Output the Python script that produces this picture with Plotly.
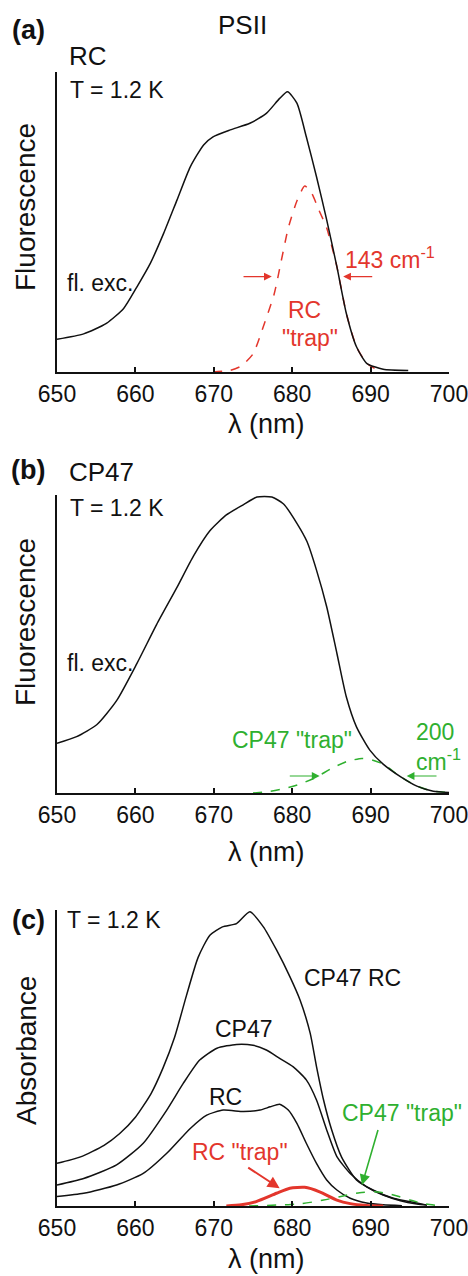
import plotly.graph_objects as go

# ---------------- data ----------------
# Panel (a): RC fluorescence excitation + RC "trap"
wl_a_fl = [650, 653.4, 656.3, 658.5, 660.2, 661.9, 663.6, 665.3, 667.0, 668.7, 669.9, 672.1, 674.6,
           676.7, 678.4, 679.4, 680.6, 681.8, 683.1, 684.4, 685.7, 686.9, 688.2, 689.5, 691.6, 694.8]
a_fl = [10.9, 12.7, 16.2, 21.2, 28.4, 36.2, 46.2, 57.3, 68.4, 75.7, 78.4, 80.7, 82.9,
        86.2, 91.2, 93.4, 89.6, 78.4, 65.1, 50.7, 35.1, 19.6, 8.4, 2.9, 0.9, 0.5]
wl_a_trap = [669.9, 672, 673.5, 675, 676.3, 677.7, 678.6, 679.5, 680.6, 681.6, 682.5, 683.4,
             684.4, 685.7, 686.9, 688.2, 689.5, 690.5]
a_trap = [0, 0.5, 2, 6, 15, 26, 37, 48, 57, 62, 59.5, 54, 48, 35.1, 19.6, 8.4, 2.9, 1.2]

# Panel (b): CP47 fluorescence excitation + CP47 "trap"
wl_b_fl = [650, 652.5, 655.1, 657.6, 660.2, 662.7, 665.3, 667.4, 669.5, 671.6, 673.8, 675.5, 677.4,
           678.9, 680.6, 681.9, 683.1, 684.4, 685.7, 686.9, 688.2, 689.9, 691.6, 693.8, 695.9, 698.0, 700]
b_fl = [16.7, 18.9, 23.0, 31.0, 43.5, 56.5, 69.0, 79.5, 88.0, 93.3, 96.8, 99.3, 99.3,
        97.0, 90.5, 84.3, 74.8, 62.5, 46.9, 32.3, 22.2, 14.4, 9.7, 5.5, 2.3, 0.6, 0.2]
wl_b_trap = [675, 677, 679, 681, 683, 685, 687, 688.9, 690, 691.6, 693.8, 695.9, 698, 700]
b_trap = [0, 0.5, 1.5, 3, 5.2, 8.2, 10.6, 11.6, 11.2, 9.7, 5.5, 2.3, 0.6, 0.2]

# Panel (c): absorbance
wl_c_cp47rc = [650, 653, 656, 658, 660, 662, 663.5, 665, 666.5, 668, 669.5, 671.1, 672.9, 674.6,
               676.3, 678, 679.7, 681, 682.3, 683.1, 684, 685, 686.3, 688.2, 690.3, 692.9, 695.9, 697.2]
c_cp47rc = [14.4, 16.6, 20.5, 24.5, 30, 38, 46.5, 57, 71, 84, 91.5, 94.3, 95.4, 99.4,
            94.4, 86.5, 77.5, 69.6, 58.3, 47.1, 35.8, 26, 16.5, 8.8, 5.4, 2.6, 1.0, 0.3]
wl_c_cp47 = [650, 653.4, 657.6, 661, 664, 666.1, 668.2, 670.4, 672.9, 675, 676.7, 678.4, 680.1,
             681.8, 683.1, 684.4, 685.7, 687.4, 689.5, 691.6, 693.8, 695.9, 697.2]
c_cp47 = [7.1, 9.3, 13.9, 21.2, 32.4, 41.4, 49.3, 53.3, 54.6, 54.3, 52.7, 49.9, 47.1,
          42.6, 35.8, 25.7, 16.7, 11.0, 6.5, 3.7, 1.8, 0.7, 0.3]
wl_c_rc = [650, 653.4, 657.6, 661, 664, 667, 669.1, 671.2, 673.8, 675.9, 677.2, 678.4, 679.5,
           680.6, 681.8, 683.1, 684.4, 685.7, 687.4, 689.5, 691.6, 694]
c_rc = [3.2, 4.3, 7.1, 11.0, 17.8, 26.2, 30.7, 32.4, 31.9, 32.4, 33.5, 34.4, 32.4,
        27.9, 21.2, 14.4, 8.8, 5.4, 2.6, 1.0, 0.4, 0.1]
wl_c_rctrap = [671.6, 673.5, 675.4, 678.0, 679.7, 681.6, 683.5, 685.7, 687.4, 689.5, 691.6]
c_rctrap = [0, 0.4, 1.5, 4.3, 6.0, 6.3, 4.8, 2.0, 0.8, 0.2, 0]
wl_c_cptrap = [674.5, 678, 681, 684, 686.5, 688.6, 690.5, 692, 693.5, 695, 697, 698.5]
c_cptrap = [0, 0.3, 0.7, 2.0, 3.4, 4.5, 4.8, 4.3, 3.3, 2.0, 0.7, 0.2]

tick_vals = [650, 660, 670, 680, 690, 700]

# ---------------- style ----------------
W, H = 468, 1276
FONT = "Liberation Sans, Arial, Helvetica, sans-serif"
RED = "#e3362c"
GREEN = "#2fb02f"
BLACK = "#111111"


def px(x):
    return x / W


def py(y):
    return 1 - y / H


# plot-area pixel boxes
X0, X1 = 57, 449
PANELS = [(72, 372), (495, 793), (910, 1206)]

fig = go.Figure()


def line(x, y, ax, color=BLACK, width=1.5, dash=None):
    fig.add_trace(go.Scatter(
        x=x, y=y, mode="lines", xaxis=ax[0], yaxis=ax[1], cliponaxis=False,
        line=dict(color=color, width=width, dash=dash, shape="spline", smoothing=0.6),
        showlegend=False, hoverinfo="skip"))


A = ("x", "y")
B = ("x2", "y2")
C = ("x3", "y3")

line(wl_a_trap, a_trap, A, RED, 1.5, "dash")
line(wl_a_fl, a_fl, A)
line(wl_b_trap, b_trap, B, GREEN, 1.5, "dash")
line(wl_b_fl, b_fl, B)
line(wl_c_cp47rc, c_cp47rc, C)
line(wl_c_cp47, c_cp47, C)
line(wl_c_rc, c_rc, C)
line(wl_c_cptrap, c_cptrap, C, GREEN, 1.5, "dash")
line(wl_c_rctrap, c_rctrap, C, RED, 3)

layout = dict(
    template="none",
    width=W, height=H,
    margin=dict(l=0, r=0, t=0, b=0, pad=0, autoexpand=False),
    paper_bgcolor="white", plot_bgcolor="white",
    font=dict(family=FONT, color=BLACK),
    showlegend=False,
)

for i, (top, bot) in enumerate(PANELS):
    sfx = "" if i == 0 else str(i + 1)
    layout["xaxis" + sfx] = dict(
        domain=[px(X0), px(X1)], range=[649.999, 700.001], anchor="y" + sfx, automargin=False,
        tickmode="array", tickvals=tick_vals, ticks="inside", ticklen=5, tickwidth=1.5,
        tickcolor=BLACK, showline=True, linecolor=BLACK, linewidth=2.2, showgrid=False,
        zeroline=False, tickfont=dict(size=23, family=FONT, color=BLACK), fixedrange=True,
        ticklabeloverflow="allow",
    )
    layout["yaxis" + sfx] = dict(
        domain=[py(bot), py(top)], range=[0, 100], anchor="x" + sfx, automargin=False,
        showticklabels=False, ticks="", showline=True, linecolor=BLACK, linewidth=2.2,
        showgrid=False, zeroline=False, fixedrange=True,
    )

fig.update_layout(**layout)

ann = []


def ptext(text, x, y, size, color=BLACK, xanchor="center", yanchor="middle", angle=0, bold=False):
    if bold:
        text = "<b>" + text + "</b>"
    ann.append(dict(text=text, x=px(x), y=py(y), xref="paper", yref="paper",
                    xanchor=xanchor, yanchor=yanchor, showarrow=False, textangle=angle,
                    font=dict(size=size, color=color, family=FONT)))


def dtext(text, x, y, ax, size, color=BLACK, xanchor="center", yanchor="middle"):
    ann.append(dict(text=text, x=x, y=y, xref=ax[0], yref=ax[1],
                    xanchor=xanchor, yanchor=yanchor, showarrow=False,
                    font=dict(size=size, color=color, family=FONT)))


def arrow(x0, y0, x1, y1, ax, color, width=1.2, size=1.3):
    ann.append(dict(text="", x=x1, y=y1, ax=x0, ay=y0, xref=ax[0], yref=ax[1],
                    axref=ax[0], ayref=ax[1], showarrow=True, arrowhead=2,
                    arrowsize=size, arrowwidth=width, arrowcolor=color))


# panel headings and axis titles
ptext("(a)", 28, 30, 27, bold=True)
ptext("PSII", 242, 25, 26)
ptext("RC", 67, 56, 26, xanchor="left")
ptext("(b)", 28, 470, 27, bold=True)
ptext("CP47", 67, 472, 26, xanchor="left")
ptext("(c)", 28, 920, 27, bold=True)

ptext("Fluorescence", 26, 207, 28, angle=-90)
ptext("Fluorescence", 26, 622, 28, angle=-90)
ptext("Absorbance", 26, 1051, 28, angle=-90)
ptext("λ (nm)", 266, 424, 27)
ptext("λ (nm)", 266, 852, 27)
ptext("λ (nm)", 266, 1259, 27)

# panel (a)
dtext("T = 1.2 K", 651.4, 94, A, 23, xanchor="left")
dtext("fl. exc.", 651.0, 29.7, A, 23, xanchor="left")
dtext("143 cm<sup>-1</sup>", 686.5, 38, A, 23, RED, xanchor="left")
dtext("RC", 681.6, 20.7, A, 23, RED)
dtext("\"trap\"", 682.3, 11.3, A, 23, RED)
arrow(673.6, 31.8, 677.4, 31.8, A, RED)
arrow(690.4, 31.8, 686.5, 31.8, A, RED)

# panel (b)
dtext("T = 1.2 K", 651.4, 95.6, B, 23, xanchor="left")
dtext("fl. exc.", 651.0, 43.6, B, 23, xanchor="left")
dtext("CP47 \"trap\"", 680.0, 17.8, B, 23, GREEN)
dtext("200", 698.2, 20.5, B, 23, GREEN)
dtext("cm<sup>-1</sup>", 698.7, 11.1, B, 23, GREEN)
arrow(679.5, 5.7, 683.5, 5.7, B, GREEN)
arrow(698.6, 5.7, 694.6, 5.7, B, GREEN)

# panel (c)
dtext("T = 1.2 K", 651.0, 96.6, C, 23, xanchor="left")
dtext("CP47 RC", 681.3, 77, C, 23, xanchor="left")
dtext("CP47", 673.9, 59.7, C, 23)
dtext("RC", 671.5, 36.7, C, 23)
dtext("RC \"trap\"", 673.4, 18.3, C, 23, RED)
dtext("CP47 \"trap\"", 694.0, 31.5, C, 23, GREEN)
arrow(674.2, 13.3, 678.4, 6.0, C, RED, width=2, size=1.2)
arrow(691.0, 26.2, 688.9, 7.1, C, GREEN, width=1.6, size=1.3)

fig.update_layout(annotations=ann)
fig.write_html("out.html")
